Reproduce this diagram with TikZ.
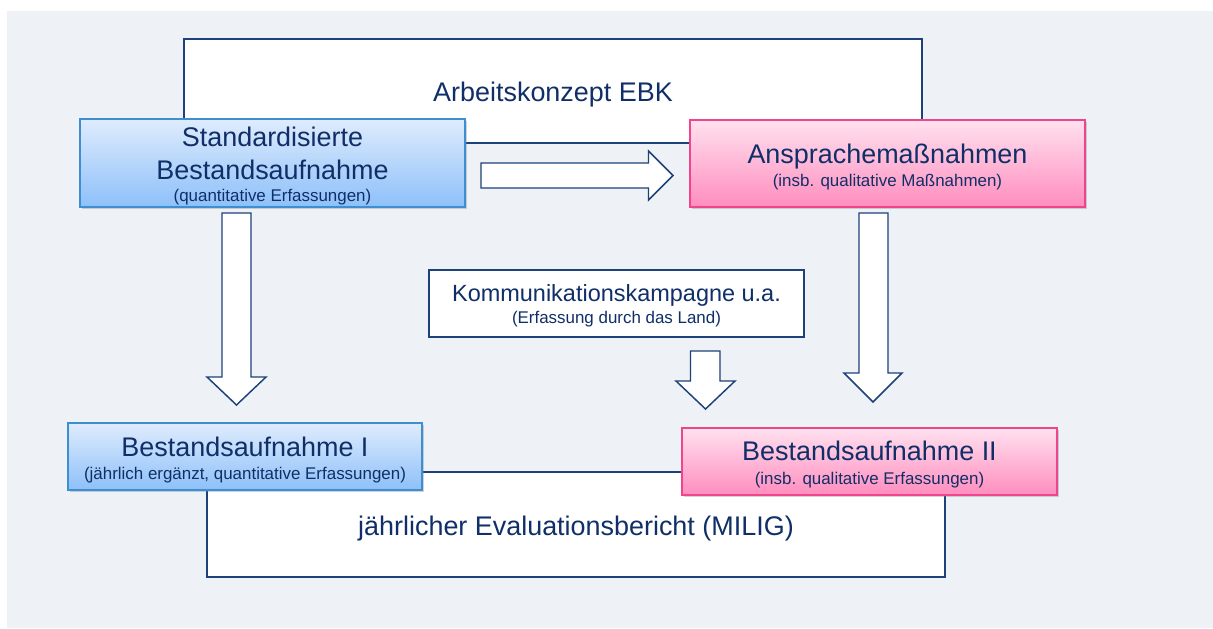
\documentclass[tikz,border=0pt]{standalone}
\usepackage{fontspec}
\setmainfont{Liberation Sans}
\usetikzlibrary{shadows,fit}
\definecolor{navy}{HTML}{1D4279}
\definecolor{txt}{HTML}{102F68}
\definecolor{panel}{HTML}{EEF2F6}
\definecolor{blueborder}{HTML}{3E8ED2}
\definecolor{bluetop}{HTML}{DFECFD}
\definecolor{bluebot}{HTML}{8DC0F9}
\definecolor{pinkborder}{HTML}{F0448C}
\definecolor{pinktop}{HTML}{FFE1EF}
\definecolor{pinkbot}{HTML}{FF8DBE}
\tikzset{
  whitebox/.style={inner sep=0pt, draw=navy, line width=1.1pt, fill=white},
  bluebox/.style={inner sep=0pt, draw=blueborder, line width=0.9pt, top color=bluetop, bottom color=bluebot,
     drop shadow={opacity=0.35, shadow xshift=1.2pt, shadow yshift=-1.2pt}},
  pinkbox/.style={inner sep=0pt, draw=pinkborder, line width=0.9pt, top color=pinktop, bottom color=pinkbot,
     drop shadow={opacity=0.35, shadow xshift=1.2pt, shadow yshift=-1.2pt}},
  bigtxt/.style={anchor=base, inner sep=0pt, text=txt, font=\fontsize{20.2}{24}\selectfont},
  midtxt/.style={anchor=base, inner sep=0pt, text=txt, font=\fontsize{17.6}{21}\selectfont},
  smalltxt/.style={anchor=base, inner sep=0pt, text=txt, font=\fontsize{12.7}{15}\selectfont},
  blockarrow/.style={fill=white, draw=navy, line width=1.1pt, line join=miter}
}
\begin{document}
\begin{tikzpicture}[x=0.75pt,y=-0.75pt]
\useasboundingbox (0,0) rectangle (1213,628);
\fill[panel] (7,11) rectangle (1213,628);

% background frames
\node[whitebox, fit={(184,39) (922,143)}] (ak) {};
\node[bigtxt] (akt) at (553,101) {Arbeitskonzept EBK};
\node[whitebox, fit={(207,472) (945,577)}] (ev) {};
\node[bigtxt] (evt) at (576,535) {jährlicher Evaluationsbericht (MILIG)};

% top boxes
\node[bluebox, fit={(80,119) (465,207)}] (sb) {};
\node[bigtxt] (sbt1) at (272.5,146) {Standardisierte};
\node[bigtxt] (sbt2) at (272.5,179) {Bestandsaufnahme};
\node[smalltxt] (sbt3) at (272.5,201) {(quantitative Erfassungen)};

\node[pinkbox, fit={(690,120) (1085,207)}] (am) {};
\node[bigtxt] (amt1) at (887.5,163) {Ansprachemaßnahmen};
\node[smalltxt] (amt2) at (887.5,186.5) {(insb. qualitative Maßnahmen)};

% middle box
\node[whitebox, fit={(429,270) (804,337)}] (kk) {};
\node[midtxt] (kkt1) at (616.5,301.5) {Kommunikationskampagne u.a.};
\node[smalltxt] (kkt2) at (616.5,323) {(Erfassung durch das Land)};

% bottom boxes
\node[bluebox, fit={(68,423) (422,490)}] (b1) {};
\node[bigtxt] (b1t1) at (245,456) {Bestandsaufnahme I};
\node[smalltxt] (b1t2) at (245,479) {(jährlich ergänzt, quantitative Erfassungen)};

\node[pinkbox, fit={(682,428) (1057,495)}] (b2) {};
\node[bigtxt] (b2t1) at (869.5,460) {Bestandsaufnahme II};
\node[smalltxt] (b2t2) at (869.5,484) {(insb. qualitative Erfassungen)};

% block arrows
\draw[blockarrow] (481,163) -- (648.5,163) -- (648.5,151) -- (673,175.5) -- (648.5,200) -- (648.5,188) -- (481,188) -- cycle;
\draw[blockarrow] (222,213) -- (251,213) -- (251,377) -- (266,377) -- (236.5,405) -- (207,377) -- (222,377) -- cycle;
\draw[blockarrow] (690.5,351) -- (720,351) -- (720,381) -- (735,381) -- (705.5,409) -- (676,381) -- (690.5,381) -- cycle;
\draw[blockarrow] (859,213) -- (888,213) -- (888,373) -- (902,373) -- (873,402) -- (844,373) -- (859,373) -- cycle;
\end{tikzpicture}
\end{document}
